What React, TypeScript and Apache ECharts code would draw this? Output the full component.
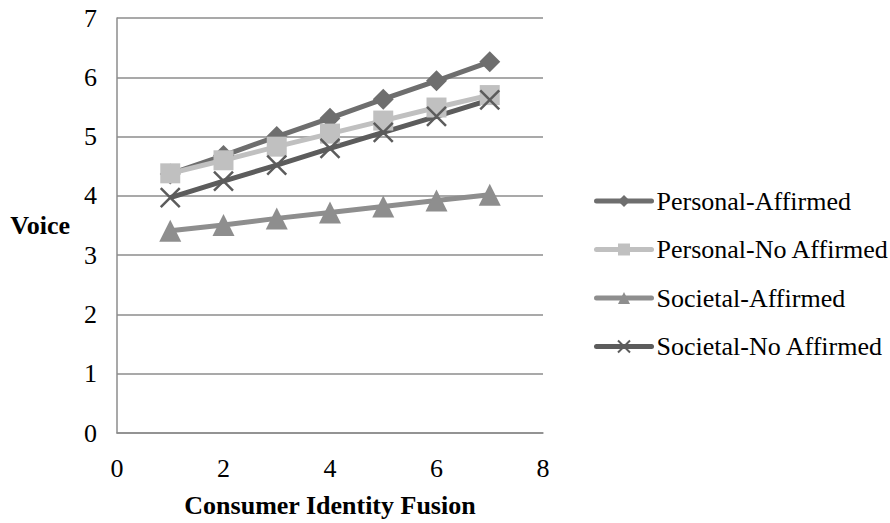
import React, { useEffect, useRef } from "react";
import * as echarts from "echarts";

const xValues = [1, 2, 3, 4, 5, 6, 7];
const personalAffirmed = [4.37, 4.68, 5.0, 5.31, 5.63, 5.94, 6.26];
const personalNoAffirmed = [4.38, 4.6, 4.83, 5.05, 5.27, 5.49, 5.7];
const societalAffirmed = [3.41, 3.51, 3.62, 3.72, 3.82, 3.92, 4.02];
const societalNoAffirmed = [3.97, 4.25, 4.52, 4.8, 5.07, 5.34, 5.62];
const seriesNames = ["Personal-Affirmed", "Personal-No Affirmed", "Societal-Affirmed", "Societal-No Affirmed"];

const FONT = "Liberation Serif";
const FS = 26;

export default function App() {
  const ref = useRef<HTMLDivElement>(null);
  useEffect(() => {
    if (!ref.current) return;
    const chart = echarts.init(ref.current, undefined, { renderer: "svg" });
    const pair = (ys: number[]) => xValues.map((x, i) => [x, ys[i]]);
    const mk = (name: string, ys: number[], color: string, symbol: string, size: number, extra: any = {}) => ({
      name,
      type: "line",
      data: pair(ys),
      symbol,
      symbolSize: size,
      lineStyle: { color, width: 5 },
      itemStyle: { color, ...extra },
      z: 2,
    });
    chart.setOption({
      animation: false,
      backgroundColor: "#ffffff",
      textStyle: { fontFamily: FONT },
      grid: { left: 117, right: 347, top: 18, bottom: 88 },
      legend: {
        orient: "vertical",
        left: 594,
        top: 188,
        padding: 0,
        itemGap: 22.5,
        itemWidth: 55,
        itemHeight: 15,
        data: seriesNames,
        lineStyle: { width: 5, cap: "round" },
        textStyle: { fontFamily: FONT, fontSize: FS, color: "#000" },
      },
      xAxis: {
        type: "value",
        min: 0,
        max: 8,
        interval: 2,
        name: "Consumer Identity Fusion",
        nameLocation: "middle",
        nameGap: 59,
        nameTextStyle: { fontFamily: FONT, fontSize: FS, fontWeight: "bold", color: "#000" },
        axisLine: { show: true, lineStyle: { color: "#8c8c8c", width: 1.5 } },
        axisTick: { show: false },
        splitLine: { show: false },
        axisLabel: { fontFamily: FONT, fontSize: FS, color: "#000", margin: 22 },
      },
      yAxis: {
        type: "value",
        min: 0,
        max: 7,
        interval: 1,
        name: "Voice",
        nameLocation: "middle",
        nameRotate: 0,
        nameGap: 47,
        nameTextStyle: { fontFamily: FONT, fontSize: FS, fontWeight: "bold", color: "#000" },
        axisLine: { show: true, lineStyle: { color: "#8c8c8c", width: 1.5 } },
        axisTick: { show: false },
        splitLine: { show: true, lineStyle: { color: "#8c8c8c", width: 1.5 } },
        axisLabel: { fontFamily: FONT, fontSize: FS, color: "#000", margin: 20 },
      },
      series: [
        mk(seriesNames[0], personalAffirmed, "#6e6e6e", "diamond", 21),
        mk(seriesNames[1], personalNoAffirmed, "#c0c0c0", "rect", 20),
        mk(seriesNames[2], societalAffirmed, "#8e8e8e", "triangle", 22),
        mk(seriesNames[3], societalNoAffirmed, "#5c5c5c", "path://M0,0L10,10M10,0L0,10", 19, {
          borderColor: "#5c5c5c",
          borderWidth: 2.5,
        }),
      ],
    });
    return () => chart.dispose();
  }, []);
  return <div ref={ref} style={{ position: "fixed", left: 0, top: 0, width: 890, height: 523 }} />;
}
